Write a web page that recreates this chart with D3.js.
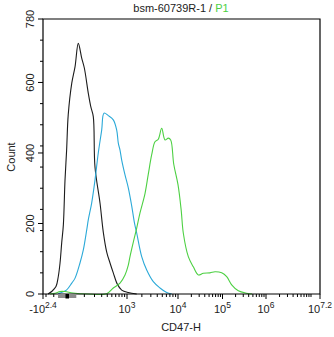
<!DOCTYPE html>
<html>
<head>
<meta charset="utf-8">
<script src="https://cdn.jsdelivr.net/npm/d3@7"></script>
<style>
  body { margin: 0; background: #fff; }
  svg { display: block; font-family: "Liberation Sans", Arial, sans-serif; }
</style>
</head>
<body>
<div id="chart"></div>
<script>
// histogram traces: [CD47-H intensity, count]
const blackTrace = [[-170,0],[-123,7],[-78,21],[-58,49],[-44,88],[-32,145],[-21,196],[-11,323],[-2,408],[5,508],[21,598],[38,645],[57,711],[80,669],[100,641],[134,570],[160,530],[186,503],[206,360],[274,258],[327,175],[389,119],[458,88],[536,60],[647,28],[790,11],[1064,4],[1577,0]];
const blueTrace = [[-58,1],[-3,11],[21,31],[38,45],[68,88],[92,125],[120,182],[134,210],[168,258],[206,323],[249,400],[300,465],[339,513],[421,506],[536,494],[629,465],[677,428],[732,408],[790,380],[916,338],[1064,301],[1249,250],[1424,201],[1577,173],[1984,106],[2491,68],[3351,35],[4517,17],[6079,4],[7579,0]];
const greenTrace = [[-143,0],[-87,2],[-44,7],[-11,7],[27,3],[131,0],[389,1],[536,17],[732,31],[916,54],[1064,82],[1153,106],[1347,147],[1577,187],[1836,230],[2306,285],[2677,340],[3119,395],[3615,432],[4188,439],[4872,470],[5640,437],[6524,442],[7251,437],[8300,368],[10000,310],[11800,238],[13170,173],[17080,106],[22130,77],[28650,54],[37100,59],[52450,60],[67900,63],[95950,60],[124900,49],[162700,26],[230800,9],[360100,2],[476800,0]];

const yMajor = [0, 200, 400, 600, 780];
const xMajor = [[-251.2, "-10", "2.4"], [1e3, "10", "3"], [1e4, "10", "4"], [1e5, "10", "5"], [1e6, "10", "6"], [15848932, "10", "7.2"]];
const xMinor = [-200, -100, 100, 200, 300, 400, 500, 600, 700, 800, 900,
  2e3, 3e3, 4e3, 5e3, 6e3, 7e3, 8e3, 9e3, 2e4, 3e4, 4e4, 5e4, 6e4, 7e4, 8e4, 9e4,
  2e5, 3e5, 4e5, 5e5, 6e5, 7e5, 8e5, 9e5, 2e6, 3e6, 4e6, 5e6, 6e6, 7e6, 8e6, 9e6, 1e7];

const W = 334, H = 337;
const L = 43, R = 320, T = 19, B = 294;

// logicle-like display: log-ish compression with a linear region round zero
const comp = v => Math.sign(v) * Math.log10(1 + Math.abs(v) / 100);
const xs = d3.scaleLinear()
  .domain([-251.2, 0, 1e3, 1e4, 1e5, 1e6, 15848932].map(comp))
  .range([L, 67, 127, 178, 222.5, 266, R]);
const x = v => xs(comp(v));
const y = d3.scaleLinear().domain([0, 780]).range([B, T]);

const svg = d3.select("#chart").append("svg").attr("width", W).attr("height", H);

const line = d3.line().x(d => x(d[0])).y(d => y(d[1])).curve(d3.curveCatmullRom.alpha(0.5));

[[blackTrace, "#1c1c1c"], [blueTrace, "#2ba9d8"], [greenTrace, "#4dd043"]].forEach(([data, col]) => {
  svg.append("path").datum(data).attr("d", line)
    .attr("fill", "none").attr("stroke", col).attr("stroke-width", 1.1);
});

// frame
svg.append("path")
  .attr("d", `M${L},${T}H${R}V${B}H${L}Z`)
  .attr("fill", "none").attr("stroke", "#000").attr("stroke-width", 1.2);

// y ticks
const yMinor = d3.range(0, 781, 60).filter(v => !yMajor.includes(v));
svg.selectAll(".ymin").data(yMinor).join("line")
  .attr("x1", L - 3).attr("x2", L).attr("y1", d => y(d)).attr("y2", d => y(d))
  .attr("stroke", "#000");
svg.selectAll(".ymaj").data(yMajor).join("line")
  .attr("x1", L - 5).attr("x2", L).attr("y1", d => y(d)).attr("y2", d => y(d))
  .attr("stroke", "#000");
svg.selectAll(".ylab").data(yMajor).join("text")
  .attr("transform", d => `translate(34,${y(d)}) rotate(-90)`)
  .attr("text-anchor", "middle").attr("font-size", 11).attr("fill", "#222")
  .text(d => d);

// x ticks
svg.append("rect").attr("x", x(-60)).attr("y", B).attr("width", x(45) - x(-60)).attr("height", 4).attr("fill", "#8c8c8c");
svg.append("rect").attr("x", x(0) - 1.5).attr("y", B).attr("width", 3.5).attr("height", 4.5).attr("fill", "#000");
svg.selectAll(".xmin").data(xMinor).join("line")
  .attr("x1", d => x(d)).attr("x2", d => x(d)).attr("y1", B).attr("y2", B + 3)
  .attr("stroke", "#000");
svg.selectAll(".xmaj").data(xMajor).join("line")
  .attr("x1", d => x(d[0])).attr("x2", d => x(d[0])).attr("y1", B).attr("y2", B + 5)
  .attr("stroke", "#000");
const xl = svg.selectAll(".xlab").data(xMajor).join("text")
  .attr("x", d => x(d[0])).attr("y", 313)
  .attr("text-anchor", "middle").attr("font-size", 11).attr("fill", "#222");
xl.append("tspan").text(d => d[1]);
xl.append("tspan").attr("dy", -5).attr("font-size", 8.5).text(d => d[2]);

// labels
svg.append("text").attr("x", 181).attr("y", 331).attr("text-anchor", "middle")
  .attr("font-size", 11).attr("fill", "#222").text("CD47-H");
svg.append("text").attr("transform", "translate(15,157) rotate(-90)").attr("text-anchor", "middle")
  .attr("font-size", 11).attr("fill", "#222").text("Count");
const title = svg.append("text").attr("x", 181).attr("y", 12).attr("text-anchor", "middle")
  .attr("font-size", 11).attr("fill", "#222");
title.append("tspan").text("bsm-60739R-1 / ");
title.append("tspan").attr("fill", "#4dd043").text("P1");
</script>
</body>
</html>
